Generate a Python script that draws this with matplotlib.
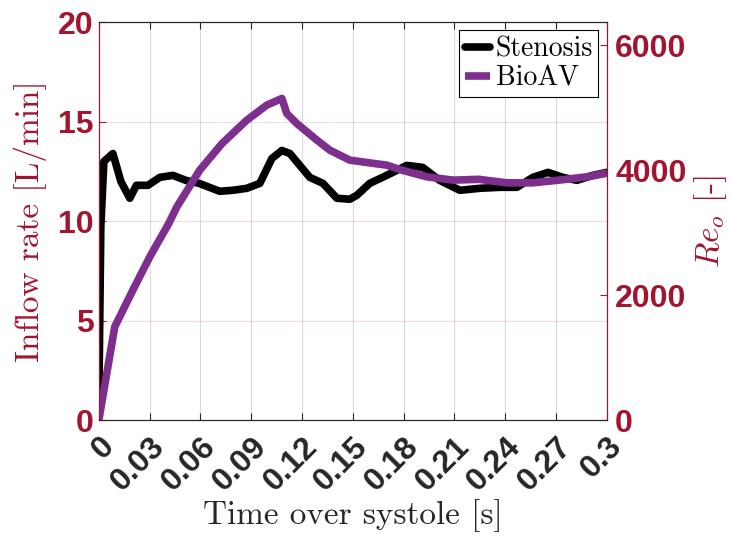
import matplotlib
matplotlib.use("Agg")
import matplotlib.pyplot as plt

plt.rcParams['mathtext.fontset'] = 'cm'

red = '#A2142F'
purple = '#7E2F8E'

# Stenosis inflow rate [L/min]
t_sten = [0.0, 0.0012, 0.003, 0.0083, 0.0130, 0.0183, 0.0222, 0.0290, 0.0360, 0.0437, 0.0514,
          0.0591, 0.0714, 0.0791, 0.0874, 0.0951, 0.1022, 0.1081, 0.1128, 0.1246, 0.1323,
          0.1406, 0.1482, 0.1524, 0.1600, 0.1700, 0.1819, 0.1913, 0.2013, 0.2132, 0.2250,
          0.2368, 0.2469, 0.2563, 0.2653, 0.2740, 0.2823, 0.2917, 0.3]
q_sten = [1.0, 9.8, 13.0, 13.4, 12.0, 11.15, 11.8, 11.8, 12.2, 12.3, 12.05,
          11.9, 11.5, 11.55, 11.65, 11.9, 13.15, 13.55, 13.4, 12.2, 11.9,
          11.15, 11.1, 11.3, 11.9, 12.3, 12.8, 12.7, 12.05, 11.55, 11.65,
          11.7, 11.7, 12.2, 12.45, 12.2, 12.05, 12.3, 12.45]

# BioAV Reynolds number [-]
t_bio = [0.0, 0.0094, 0.0201, 0.0301, 0.0413, 0.0461, 0.0596, 0.0728, 0.0874, 0.0992,
         0.1081, 0.1110, 0.1169, 0.1288, 0.1364, 0.1482, 0.1624, 0.1700, 0.1789, 0.1937,
         0.2091, 0.2244, 0.2409, 0.2563, 0.2717, 0.2883, 0.3]
re_bio = [0, 1493, 2080, 2613, 3147, 3413, 4000, 4427, 4800, 5040,
          5147, 4907, 4747, 4480, 4320, 4160, 4107, 4080, 4000, 3893,
          3840, 3853, 3797, 3797, 3840, 3893, 3950]

xticks = [0, 0.03, 0.06, 0.09, 0.12, 0.15, 0.18, 0.21, 0.24, 0.27, 0.3]
xticklabels = ['0', '0.03', '0.06', '0.09', '0.12', '0.15', '0.18', '0.21', '0.24', '0.27', '0.3']

fig = plt.figure(figsize=(7.32, 5.40), dpi=100)
ax = fig.add_axes([0.135, 0.222, 0.694, 0.737])
ax2 = ax.twinx()

l1, = ax.plot(t_sten, q_sten, color='black', lw=5.5, label='Stenosis',
              solid_joinstyle='round', solid_capstyle='round')
l2, = ax2.plot(t_bio, re_bio, color=purple, lw=5.5, label='BioAV',
               solid_joinstyle='round', solid_capstyle='butt')

ax.set_xlim(0, 0.3)
ax.set_ylim(0, 20)
ax2.set_ylim(0, 6368)

ax.set_xticks(xticks)
ax.set_xticklabels(xticklabels, rotation=45, ha='right', va='top', rotation_mode='anchor',
                   fontsize=23, fontweight='bold', family='Liberation Sans', color='#262626')
ax.set_yticks([0, 5, 10, 15, 20])
ax2.set_yticks([0, 2000, 4000, 6000])
for lab in ax.get_yticklabels() + ax2.get_yticklabels():
    lab.set_fontweight('bold')
    lab.set_family('Liberation Sans')
ax.tick_params(axis='y', labelsize=23, colors=red, direction='in', length=5, right=False)
ax2.tick_params(axis='y', labelsize=23, colors=red, direction='in', length=5, pad=6)
ax.tick_params(axis='x', direction='in', length=5, top=True, color='#262626', pad=8)

# grid
ax.grid(axis='x', color='#d9d9d9', lw=0.8)
ax.grid(axis='y', color=red, alpha=0.15, lw=0.8)
ax.set_axisbelow(True)

for s in ['top', 'bottom']:
    ax.spines[s].set_color('#262626')
    ax2.spines[s].set_color('#262626')
for a in (ax, ax2):
    a.spines['left'].set_color(red)
    a.spines['right'].set_color(red)

ax.set_xlabel('Time over systole [s]', family='cmr10', fontsize=24, color='#262626', labelpad=2)
ax.set_ylabel('Inflow rate [L/min]', family='cmr10', fontsize=24, color=red, labelpad=8)
ax2.set_ylabel(r'$Re_o$ [-]', family='cmr10', fontsize=24, color=red, labelpad=4)

leg = ax2.legend(handles=[l1, l2], loc='upper right', prop={'family': 'cmr10', 'size': 20},
                 handlelength=0.9, handletextpad=0.2, borderpad=0.2, labelspacing=0.1,
                 fancybox=False, framealpha=1, borderaxespad=0.3)
leg.get_frame().set_edgecolor('black')
leg.get_frame().set_linewidth(0.8)

fig.savefig('out.png', dpi=100)
